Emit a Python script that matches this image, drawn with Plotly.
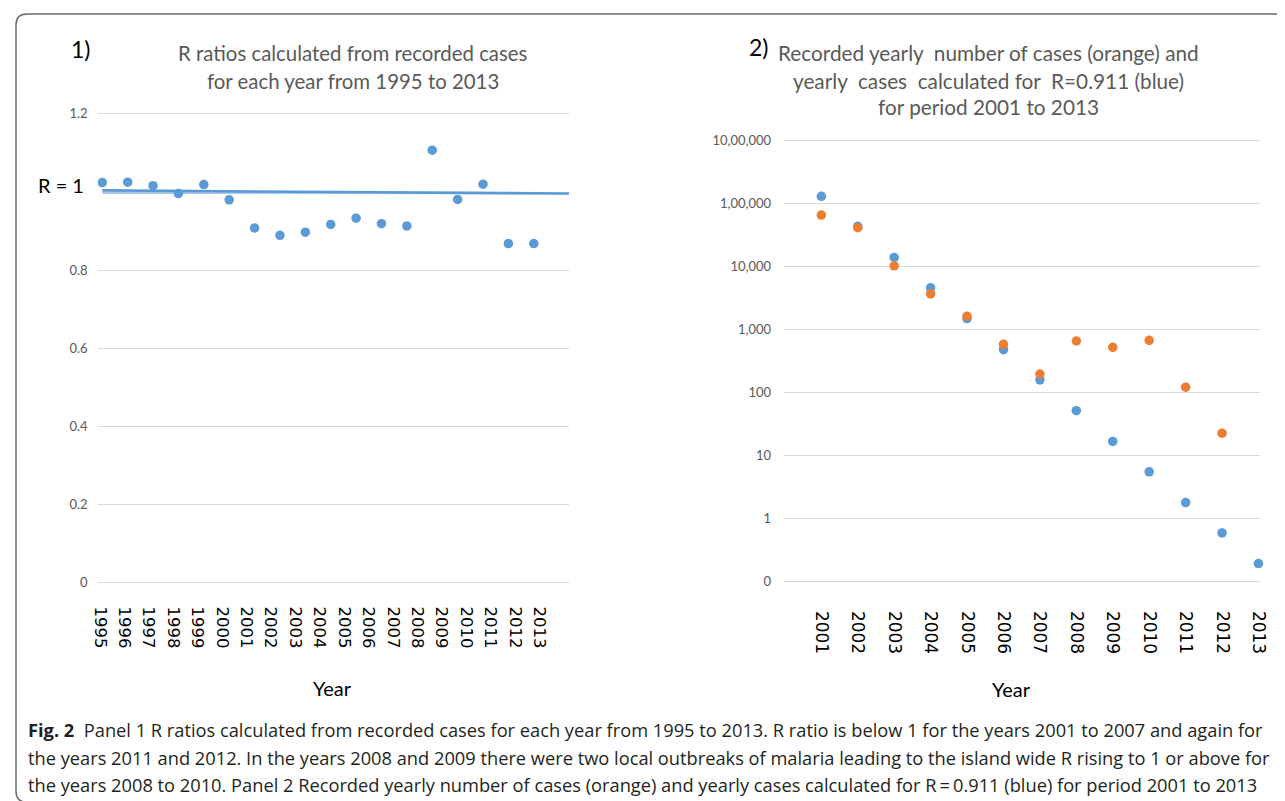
import plotly.graph_objects as go

W, H = 1285, 801
# measured placement of the figure inside the captured picture
AX, AY, S = 14.5, 12.4, 0.9867

# ---------------- data ----------------
# Panel 1: R ratios per year (1995-2012 plotted), axis labels 1995-2013
r_years = list(range(1995, 2013))
r_values = [1.024, 1.025, 1.016, 0.996, 1.019, 0.980, 0.908, 0.889, 0.897,
            0.917, 0.933, 0.919, 0.913, 1.107, 0.981, 1.020, 0.868, 0.868]
r_tick_years = list(range(1995, 2014))
r_ytick_vals = [0, 0.2, 0.4, 0.6, 0.8, 1.2]
r_ytick_text = ["0", "0.2", "0.4", "0.6", "0.8", "1.2"]
# hand drawn "R = 1" reference line (start / end values)
r_line_values = [1.004, 0.996]
r_line2_values = [0.9975, 0.9965]

# Panel 2: cases 2001-2013 (log scale)
case_years = list(range(2001, 2014))
calc_cases = [131800, 43950, 14120, 4640, 1510, 485, 160, 52, 16.9, 5.56,
              1.81, 0.596, 0.194]
rec_years = list(range(2001, 2013))
recorded_cases = [66500, 41800, 10380, 3720, 1645, 590, 199, 665, 528, 682,
                  123, 22.9]
c_ytick_vals = [0.1, 1, 10, 100, 1000, 10000, 100000, 1000000]
c_ytick_text = ["0", "1", "10", "100", "1,000", "10,000", "1,00,000",
                "10,00,000"]

BLUE = "#5b9bd5"
ORANGE = "#ed7d31"
GRID = "#d9d9d9"
GREY = "#595959"
TFONT = "Lato"


def fx(x):
    return (x - AX) / S


def fy(y):
    return (y - AY) / S


def px(x):
    return fx(x) / W


def py(y):
    return 1 - fy(y) / H


# ---------------- figure ----------------
fig = go.Figure()

# axis ranges
p1_x_range = [1994.906, 2014.21]      # label axis
p1_pts_range = [1994.815, 2013.387]   # hidden axis for the points
p1_y_range = [-0.02, 1.22]
p2_x_range = [1999.98, 2013.03]
p2_y_range = [-1.05, 6.05]

fig.add_trace(go.Scatter(
    x=[r_years[0], p1_pts_range[1]], y=r_line2_values, mode="lines",
    line=dict(color="#a9c8ea", width=2), xaxis="x3", yaxis="y",
    showlegend=False, hoverinfo="skip"))
fig.add_trace(go.Scatter(
    x=[r_years[0], p1_pts_range[1]], y=r_line_values, mode="lines",
    line=dict(color=BLUE, width=2.6), xaxis="x3", yaxis="y",
    showlegend=False, hoverinfo="skip"))
fig.add_trace(go.Scatter(
    x=r_years, y=r_values, mode="markers",
    marker=dict(color=BLUE, size=9.5), xaxis="x3", yaxis="y",
    showlegend=False))
# keeps the labelled x axis subplot alive (no visible mark)
fig.add_trace(go.Scatter(
    x=[r_tick_years[0]], y=[None], mode="markers", xaxis="x", yaxis="y",
    showlegend=False, hoverinfo="skip"))

fig.add_trace(go.Scatter(
    x=case_years, y=calc_cases, mode="markers",
    marker=dict(color=BLUE, size=9.5), xaxis="x2", yaxis="y2",
    showlegend=False, cliponaxis=False))
fig.add_trace(go.Scatter(
    x=rec_years, y=recorded_cases, mode="markers",
    marker=dict(color=ORANGE, size=9.5), xaxis="x2", yaxis="y2",
    showlegend=False, cliponaxis=False))

tickfont_y = dict(family=TFONT, size=13, color=GREY)

p1_dom_x = [px(97), px(568)]
p1_dom_y = [py(588.8), py(105.2)]
p2_dom_x = [px(783), px(1258)]
p2_dom_y = [py(583.1), py(136.9)]

fig.update_layout(
    width=W, height=H,
    margin=dict(l=0, r=0, t=0, b=0),
    paper_bgcolor="white", plot_bgcolor="rgba(0,0,0,0)",
    showlegend=False,
    xaxis=dict(domain=p1_dom_x, range=p1_x_range, anchor="y",
               tickmode="array", tickvals=r_tick_years,
               ticktext=[str(v) for v in r_tick_years], tickangle=90,
               tickfont=dict(family="DejaVu Sans", size=16.5, color="black"),
               showgrid=False, zeroline=False,
               showline=False, ticks="", ticklabelstandoff=15),
    xaxis3=dict(domain=p1_dom_x, range=p1_pts_range, anchor="y",
                showgrid=False, zeroline=False, showline=False,
                showticklabels=False, ticks=""),
    yaxis=dict(domain=p1_dom_y, range=p1_y_range, anchor="x",
               tickmode="array", tickvals=r_ytick_vals,
               ticktext=r_ytick_text, tickfont=tickfont_y,
               gridcolor=GRID, gridwidth=1, zeroline=False,
               showline=False, ticks="", ticklabelstandoff=9),
    xaxis2=dict(domain=p2_dom_x, range=p2_x_range, anchor="y2",
                tickmode="array", tickvals=case_years,
                ticktext=[str(v) for v in case_years], tickangle=90,
                tickfont=dict(family="DejaVu Sans", size=17, color="black"),
                showgrid=False, zeroline=False,
                showline=False, ticks="", ticklabelstandoff=25),
    yaxis2=dict(domain=p2_dom_y, range=p2_y_range, type="log", anchor="x2",
                tickmode="array", tickvals=c_ytick_vals,
                ticktext=c_ytick_text, tickfont=tickfont_y,
                gridcolor=GRID, gridwidth=1, zeroline=False,
                showline=False, ticks="", ticklabelstandoff=12),
)

ann = []


def text(x, y, s, size, color=GREY, family=TFONT, xanchor="center"):
    ann.append(dict(x=px(x), y=py(y), xref="paper", yref="paper", text=s,
                    showarrow=False, xanchor=xanchor, yanchor="middle",
                    font=dict(family=family, size=size, color=color)))


# panel 1 texts
text(80, 48, "1)", 23, "black")
text(352, 52.8, "R ratios calculated from recorded cases", 20.4)
text(352, 79.8, "for each year from 1995 to 2013", 20.4)
text(60.8, 184, "R = 1", 20, "black")
text(332, 686, "Year", 20, "black")

# panel 2 texts
text(757, 46.5, "2)", 23, "black")
text(987.5, 52.8, "Recorded yearly  number of cases (orange) and", 20.75)
text(987.5, 79.8, "yearly  cases  calculated for  R=0.911 (blue)", 20.75)
text(987.5, 105.8, "for period 2001 to 2013", 20.75)
text(1010, 686.5, "Year", 20, "black")

# caption
CAP = "#231f20"
CF = "Open Sans"
CS = 18.25
text(25, 727.6, "<b>Fig. 2</b>  Panel 1 R ratios calculated from recorded cases for each year from 1995 to 2013. R ratio is below 1 for the years 2001 to 2007 and again for", CS, CAP, CF, xanchor="left")
text(25, 755.6, "the years 2011 and 2012. In the years 2008 and 2009 there were two local outbreaks of malaria leading to the island wide R rising to 1 or above for", CS, CAP, CF, xanchor="left")
text(25, 782.6, "the years 2008 to 2010. Panel 2 Recorded yearly number of cases (orange) and yearly cases calculated for R\u2009=\u20090.911 (blue) for period 2001 to 2013", CS, CAP, CF, xanchor="left")

fig.update_layout(annotations=ann)

# rounded frame (open to the right); left/top edges sit at the figure edge
L, T = 1.0 / W, 1 - 1.0 / H
B = py(800)
R = 1.02
rad_x, rad_y = 11.0 / W, 11.0 / H
path = (f"M {R},{T} L {L + rad_x},{T} Q {L},{T} {L},{T - rad_y} "
        f"L {L},{B + rad_y} Q {L},{B} {L + rad_x},{B} L {R},{B}")
fig.add_shape(type="path", path=path, xref="paper", yref="paper",
              line=dict(color="#6b6b6b", width=1.5))

fig.write_html("out.html")
